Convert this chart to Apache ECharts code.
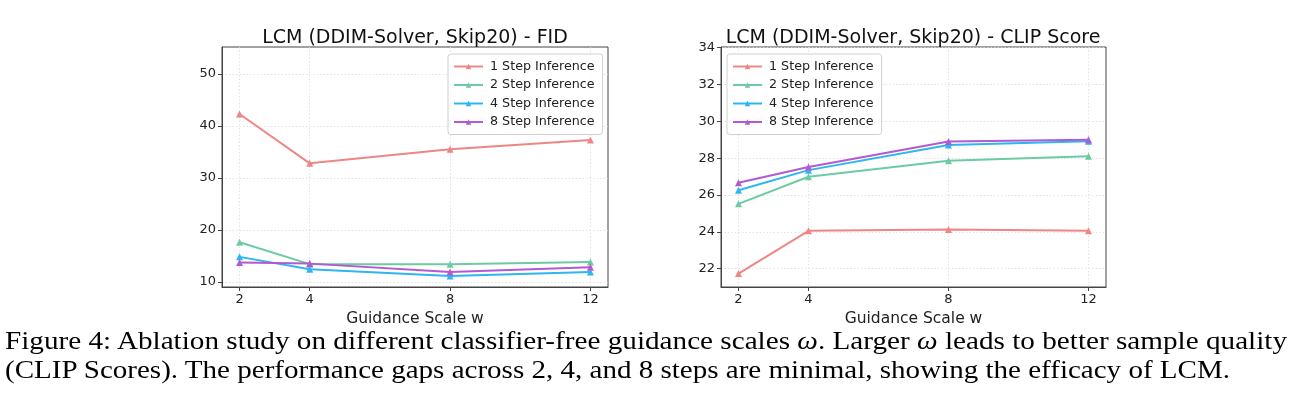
<!DOCTYPE html>
<html>
<head>
<meta charset="utf-8">
<script src="https://cdn.jsdelivr.net/npm/echarts@6/dist/echarts.min.js"></script>
<style>
  html, body { margin: 0; padding: 0; background: #fff; }
  #wrap { position: relative; width: 1295px; height: 393px; overflow: hidden; }
  #chart { position: absolute; left: 0; top: 0; width: 1295px; height: 393px; }
  .cap { position: absolute; left: 5px; white-space: nowrap; font-family: 'Liberation Serif', 'Times New Roman', serif; font-size: 25px; color: #000; transform-origin: 0 0; line-height: 1; }
</style>
</head>
<body>
<div id="wrap">
  <div id="chart"></div>
  <div class="cap" id="cap1">Figure 4: Ablation study on different classifier-free guidance scales <i>ω</i>. Larger <i>ω</i> leads to better sample quality</div>
  <div class="cap" id="cap2">(CLIP Scores). The performance gaps across 2, 4, and 8 steps are minimal, showing the efficacy of LCM.</div>
</div>
<script>
// ---- data ----
const guidanceScales = [2, 4, 8, 12];
const seriesNames = ['1 Step Inference', '2 Step Inference', '4 Step Inference', '8 Step Inference'];
const fid1 = [42.3, 32.8, 35.5, 37.3];
const fid2 = [17.6, 13.4, 13.4, 13.8];
const fid4 = [14.8, 12.4, 11.1, 11.9];
const fid8 = [13.7, 13.5, 11.9, 12.8];
const clip1 = [21.73, 24.05, 24.13, 24.05];
const clip2 = [25.52, 26.99, 27.86, 28.11];
const clip4 = [26.26, 27.35, 28.72, 28.92];
const clip8 = [26.66, 27.52, 28.90, 29.00];
const fidTicks = [10, 20, 30, 40, 50];
const clipTicks = [22, 24, 26, 28, 30, 32, 34];
const titles = ['LCM (DDIM-Solver, Skip20) - FID', 'LCM (DDIM-Solver, Skip20) - CLIP Score'];
const xName = 'Guidance Scale w';

const colors = ['#ee8686', '#6ccba3', '#2db6ef', '#b25ad1'];
const font = 'DejaVu Sans';

const chart = echarts.init(document.getElementById('chart'), null, { renderer: 'canvas' });

function pairs(vals) { return guidanceScales.map((x, i) => [x, vals[i]]); }

const grids = [
  { left: 222, top: 47, width: 386, height: 240 },
  { left: 721, top: 47, width: 385, height: 240 }
];

function xAxis(gi) {
  return {
    type: 'value', gridIndex: gi, min: 1.5, max: 12.5,
    name: xName, nameLocation: 'middle', nameGap: 21,
    nameTextStyle: { fontFamily: font, fontSize: 15.5, color: '#222' },
    axisLine: { show: true, onZero: false, lineStyle: { color: '#444', width: 1 } },
    axisTick: { show: true, length: 4, customValues: guidanceScales, lineStyle: { color: '#444' } },
    axisLabel: { customValues: guidanceScales, fontFamily: font, fontSize: 13, color: '#222', margin: 6 },
    splitLine: { show: true, lineStyle: { color: '#dcdcdc', type: [1.5, 2], width: 0.8 } }
  };
}
function yAxis(gi, min, max, ticks) {
  return {
    type: 'value', gridIndex: gi, min: min, max: max,
    axisLine: { show: true, onZero: false, lineStyle: { color: '#444', width: 1 } },
    axisTick: { show: true, length: 4, customValues: ticks, lineStyle: { color: '#444' } },
    axisLabel: { customValues: ticks, fontFamily: font, fontSize: 13, color: '#222', margin: 6 },
    splitLine: { show: true, lineStyle: { color: '#dcdcdc', type: [1.5, 2], width: 0.8 } }
  };
}

function mkSeries(vals, idx, gi) {
  return {
    type: 'line', name: seriesNames[idx], xAxisIndex: gi, yAxisIndex: gi,
    data: pairs(vals), symbol: 'triangle', symbolSize: 7, showSymbol: true,
    lineStyle: { color: colors[idx], width: 2 },
    itemStyle: { color: colors[idx] },
    animation: false, z: 3 + idx
  };
}

function legend(left, top) {
  return {
    left: left, top: top, orient: 'vertical', itemGap: 5.5,
    itemWidth: 29, itemHeight: 7,
    padding: [6, 8, 6, 5],
    backgroundColor: 'rgba(255,255,255,0.85)', borderColor: '#d0d0d0', borderWidth: 1, borderRadius: 3,
    textStyle: { fontFamily: font, fontSize: 12.7, color: '#222', padding: [0, 0, 0, 2] },
    data: seriesNames, selectedMode: false
  };
}

chart.setOption({
  animation: false,
  color: colors,
  title: [
    { text: titles[0], left: 410, top: 24, textAlign: 'center', textStyle: { fontFamily: font, fontSize: 19, fontWeight: 'normal', color: '#111' } },
    { text: titles[1], left: 908, top: 24, textAlign: 'center', textStyle: { fontFamily: font, fontSize: 19, fontWeight: 'normal', color: '#111' } }
  ],
  grid: grids.map(g => Object.assign({ show: true, borderColor: '#444', borderWidth: 1, backgroundColor: 'transparent' }, g)),
  xAxis: [xAxis(0), xAxis(1)],
  yAxis: [yAxis(0, 9.0, 55.2, fidTicks), yAxis(1, 21.0, 34.04, clipTicks)],
  legend: [legend(448, 54), legend(727, 54)],
  series: [
    mkSeries(fid1, 0, 0), mkSeries(fid2, 1, 0), mkSeries(fid4, 2, 0), mkSeries(fid8, 3, 0),
    mkSeries(clip1, 0, 1), mkSeries(clip2, 1, 1), mkSeries(clip4, 2, 1), mkSeries(clip8, 3, 1)
  ]
});

// caption fit
const c1 = document.getElementById('cap1'), c2 = document.getElementById('cap2');
c1.style.top = '327.5px'; c2.style.top = '357px';
const w1 = c1.getBoundingClientRect().width;
const w2 = c2.getBoundingClientRect().width;
c1.style.transform = 'scaleX(' + (1282 / w1) + ')';
c2.style.transform = 'scaleX(' + (1225 / w2) + ')';
</script>
</body>
</html>
